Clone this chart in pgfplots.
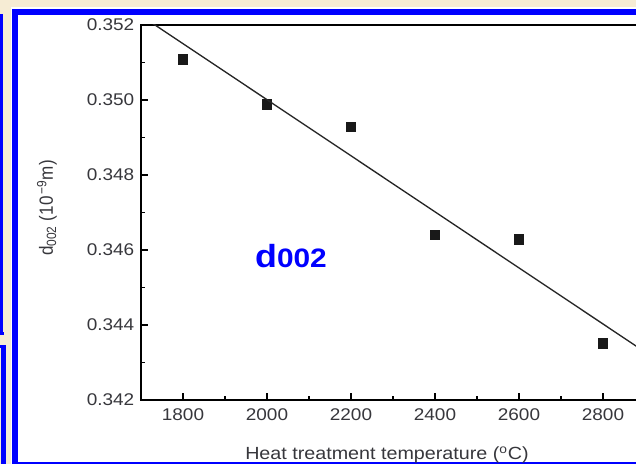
\documentclass[border=0pt]{standalone}
\usepackage{pgfplots}
\pgfplotsset{compat=1.18}
\usepackage{fontspec}
\setmainfont{Liberation Sans}
\definecolor{cream}{RGB}{246,236,212}
\definecolor{frameblue}{RGB}{0,0,255}
\definecolor{lbl}{RGB}{55,55,60}
\begin{document}
\begin{tikzpicture}
\path[use as bounding box, clip] (0,0) rectangle (477pt,348pt);
\begin{scope}[shift={(0pt,348pt)}, x=0.75pt, y=-0.75pt]
  \fill[cream] (0,0) rectangle (636,464);
  \fill[white] (11,7) rectangle (640,470);
  % left box fragments
  \fill[frameblue] (0,14) rectangle (3,335);
  \fill[frameblue] (0,332) rectangle (4,335);
  \fill[frameblue] (0,345) rectangle (6,348);
  \fill[frameblue] (1,345) rectangle (6,470);
  % main frame
  \fill[frameblue] (12,9) rectangle (640,15);
  \fill[frameblue] (12,9) rectangle (18,470);
  \fill[frameblue] (12,462) rectangle (640,464);
\end{scope}
\begin{axis}[
  at={(105.75pt,48pt)}, anchor=south west,
  scale only axis, width=378pt, height=281.25pt,
  xmin=1700, xmax=2900, ymin=0.342, ymax=0.352,
  xtick={1800,2000,2200,2400,2600,2800},
  minor xtick={1700,1900,2100,2300,2500,2700},
  ytick={0.342,0.344,0.346,0.348,0.350,0.352},
  minor ytick={0.343,0.345,0.347,0.349,0.351},
  xtick pos=bottom, ytick pos=left,
  tick align=inside,
  major tick length=5pt, minor tick length=3pt,
  every tick/.style={black, line width=0.9pt},
  axis line style={black, line width=1.1pt},
  /pgf/number format/assume math mode=true,
  yticklabel style={/pgf/number format/fixed, /pgf/number format/fixed zerofill, /pgf/number format/precision=3, font=\fontsize{12.7}{14}\selectfont, text=lbl, xscale=1.12, xshift=-1pt},
  xticklabel style={/pgf/number format/1000 sep={}, font=\fontsize{12.7}{14}\selectfont, text=lbl, xscale=1.12, yshift=-3pt},
  scaled y ticks=false,
  clip mode=individual,
  xlabel={Heat treatment temperature (\textsuperscript{o}C)},
  ylabel={d\textsubscript{002} (10\textsuperscript{\,−9}m)},
  every axis x label/.style={at={(axis description cs:0.488,-0.147)}, anchor=center, font=\fontsize{13.2}{15}\selectfont, text=lbl, xscale=1.12},
  every axis y label/.style={at={(axis description cs:-0.1865,0.512)}, rotate=90, anchor=center, font=\fontsize{12.8}{14}\selectfont, text=lbl, yscale=1.12},
]
\addplot[only marks, mark=square*, mark size=3.5pt, black!90] coordinates {
  (1800,0.35109) (2000,0.34989) (2200,0.34928) (2400,0.34640) (2600,0.34629) (2800,0.34351)
};
\addplot[black!85, line width=1pt] coordinates {(1700,0.35225) (2900,0.34328)};
\node[anchor=base west, text=frameblue, font=\bfseries, xscale=1.12, inner sep=0pt] at (axis cs:1971,0.34552) {{\fontsize{24}{26}\selectfont d}{\fontsize{20}{22}\selectfont 002}};
\end{axis}
\end{tikzpicture}
\end{document}
